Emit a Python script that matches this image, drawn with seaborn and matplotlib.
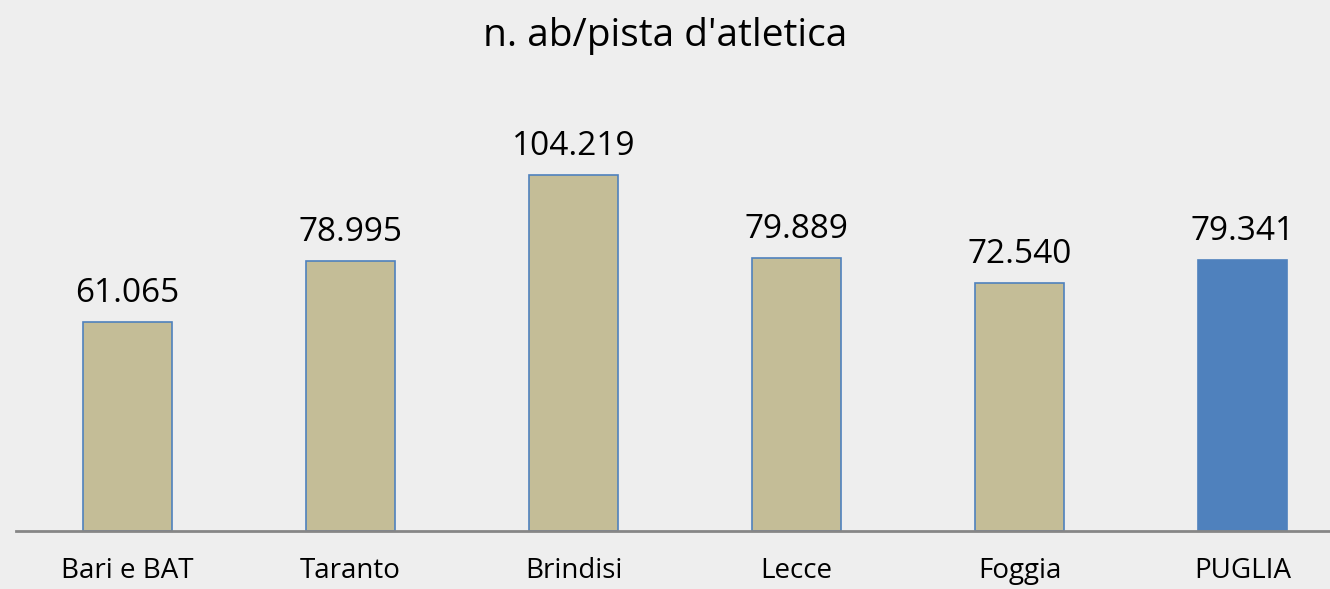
import matplotlib
matplotlib.use("Agg")
import matplotlib.pyplot as plt
import seaborn as sns
import pandas as pd

# Inhabitants per athletics track, by province
provinces = ["Bari e BAT", "Taranto", "Brindisi", "Lecce", "Foggia", "PUGLIA"]
ab_per_pista = [61065, 78995, 104219, 79889, 72540, 79341]
value_labels = ["61.065", "78.995", "104.219", "79.889", "72.540", "79.341"]
title = "n. ab/pista d'atletica"

sns.set_theme(style="white")
plt.rcParams["font.family"] = ["Open Sans", "DejaVu Sans"]

bg = "#eeeeee"
tan = "#c4bd97"
blue = "#4f81bd"
colors = [tan] * 5 + [blue]

df = pd.DataFrame({"provincia": provinces, "ab": ab_per_pista})

fig = plt.figure(figsize=(13.3, 5.89), dpi=100, facecolor=bg)
ax = fig.add_axes([16 / 1330, 58 / 589, 1 - 16 / 1330, 431 / 589])
ax.set_facecolor(bg)

sns.barplot(data=df, x="provincia", y="ab", hue="provincia", palette=colors,
            width=0.4, legend=False, ax=ax, edgecolor=blue, linewidth=1.2,
            saturation=1)

ax.set_xlim(-0.5, -0.5 + (1330 - 16) / 223)
ax.set_ylim(0, 126170)

for i, (v, lab) in enumerate(zip(ab_per_pista, value_labels)):
    ax.annotate(lab, (i, v), xytext=(0, 14.5), textcoords="offset points",
                ha="center", va="baseline", fontsize=24, color="#000000")

for s in ["top", "right", "left"]:
    ax.spines[s].set_visible(False)
ax.spines["bottom"].set_color("#868686")
ax.spines["bottom"].set_linewidth(2)
ax.set_yticks([])
ax.set_xlabel("")
ax.set_ylabel("")
ax.tick_params(axis="x", length=0, pad=19, labelsize=20, labelcolor="#000000")

fig.text(0.5, 1 - 46 / 589, title, ha="center", va="baseline", fontsize=28,
         color="#000000")

fig.savefig("out.png", dpi=100, facecolor=bg)
